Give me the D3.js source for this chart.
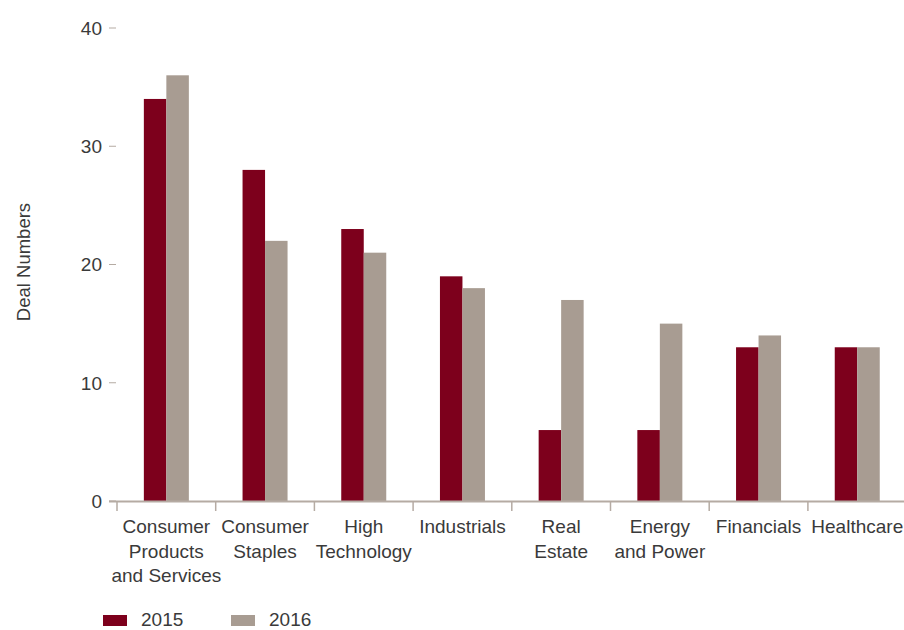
<!DOCTYPE html>
<html>
<head>
<title>Deal numbers by sector</title>
<style>
  body { margin: 0; background: #fff; }
  text { font-family: "Liberation Sans", Arial, sans-serif; fill: #3a3a3a; }
</style>
</head>
<body>
<script src="https://cdnjs.cloudflare.com/ajax/libs/d3/7.8.5/d3.min.js"></script>
<script>
var categories = [
  ["Consumer", "Products", "and Services"],
  ["Consumer", "Staples"],
  ["High", "Technology"],
  ["Industrials"],
  ["Real", "Estate"],
  ["Energy", "and Power"],
  ["Financials"],
  ["Healthcare"]
];
var series = ["2015", "2016"];
var values2015 = [34, 28, 23, 19, 6, 6, 13, 13];
var values2016 = [36, 22, 21, 18, 17, 15, 14, 13];
var yTicks = [0, 10, 20, 30, 40];

var width = 904,
    height = 630;

var color = d3.scaleOrdinal()
    .domain(series)
    .range(["#7d001c", "#a89c92"]);

var svg = d3.select("body").append("svg")
    .attr("width", width)
    .attr("height", height);

var x = d3.scaleBand()
    .domain(d3.range(categories.length))
    .range([117, 117 + 8 * 98.7]);

var x1 = d3.scaleBand()
    .domain(series)
    .range([0, 45]);

var y = d3.scaleLinear()
    .domain([0, 40])
    .range([501, 28]);

// y axis: labels with small dashes, no line
var yAxis = svg.append("g").attr("class", "y-axis");
yAxis.selectAll("line")
    .data(yTicks)
    .enter().append("line")
    .attr("x1", 109).attr("x2", 116)
    .attr("y1", function(d) { return y(d); })
    .attr("y2", function(d) { return y(d); })
    .style("stroke", "#b5aba3")
    .style("stroke-width", 1);
yAxis.selectAll("text")
    .data(yTicks)
    .enter().append("text")
    .attr("x", 102)
    .attr("y", function(d) { return y(d); })
    .attr("dy", "0.36em")
    .attr("text-anchor", "end")
    .style("font-size", "19px")
    .text(function(d) { return d; });

svg.append("text")
    .attr("transform", "translate(30," + 262 + ") rotate(-90)")
    .attr("text-anchor", "middle")
    .style("font-size", "18.5px")
    .text("Deal Numbers");

// bars
var groups = svg.selectAll(".group")
    .data(categories)
    .enter().append("g")
    .attr("class", "group")
    .attr("transform", function(d, i) {
      return "translate(" + (x(i) + (x.bandwidth() - 45) / 2) + ",0)";
    });

groups.selectAll("rect")
    .data(function(d, i) {
      return [{ key: "2015", value: values2015[i] }, { key: "2016", value: values2016[i] }];
    })
    .enter().append("rect")
    .attr("x", function(d) { return x1(d.key); })
    .attr("width", x1.bandwidth())
    .attr("y", function(d) { return y(d.value); })
    .attr("height", function(d) { return y(0) - y(d.value); })
    .style("fill", function(d) { return color(d.key); });

// x axis line and band boundary ticks
svg.append("line")
    .attr("x1", 109).attr("x2", width)
    .attr("y1", y(0) + 0.5).attr("y2", y(0) + 0.5)
    .style("stroke", "#b5aba3")
    .style("stroke-width", 2);

svg.selectAll(".xtick")
    .data(d3.range(categories.length))
    .enter().append("line")
    .attr("class", "xtick")
    .attr("x1", function(i) { return x(i); })
    .attr("x2", function(i) { return x(i); })
    .attr("y1", y(0))
    .attr("y2", y(0) + 10)
    .style("stroke", "#b5aba3")
    .style("stroke-width", 1.5);

var labels = svg.selectAll(".xlabel")
    .data(categories)
    .enter().append("text")
    .attr("class", "xlabel")
    .attr("text-anchor", "middle")
    .style("font-size", "19px")
    .attr("transform", function(d, i) {
      return "translate(" + (x(i) + x.bandwidth() / 2) + ",533)";
    });

labels.selectAll("tspan")
    .data(function(d) { return d; })
    .enter().append("tspan")
    .attr("x", 0)
    .attr("y", function(d, j) { return j * 24.5; })
    .text(function(d) { return d; });

// legend
var legend = svg.selectAll(".legend")
    .data(series)
    .enter().append("g")
    .attr("class", "legend")
    .attr("transform", function(d, i) { return "translate(" + (103 + i * 128) + ",615)"; });

legend.append("rect")
    .attr("width", 24)
    .attr("height", 11)
    .style("fill", function(d) { return color(d); });

legend.append("text")
    .attr("x", 38)
    .attr("y", 11)
    .style("font-size", "19px")
    .text(function(d) { return d; });
</script>
</body>
</html>
